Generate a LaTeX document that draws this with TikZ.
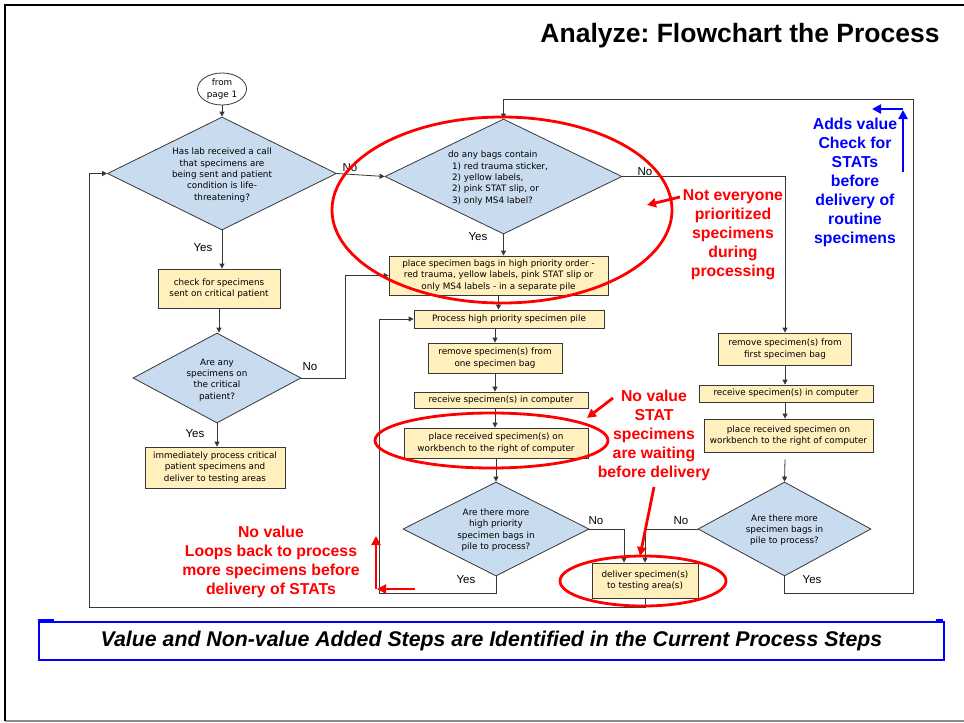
\documentclass[tikz,border=0pt]{standalone}
\usepackage{fontspec}
\setmainfont{Liberation Sans}
\newfontfamily\dejavu{DejaVu Sans}
\usetikzlibrary{shapes.geometric,arrows.meta}
\frenchspacing
\definecolor{diablue}{RGB}{201,219,239}
\definecolor{boxyellow}{RGB}{255,240,190}
\definecolor{linegray}{RGB}{55,55,55}
\definecolor{framegray}{RGB}{140,140,140}
\tikzset{
  flowbox/.style={rectangle, draw=linegray, fill=boxyellow, line width=0.8pt,
    inner sep=0pt, align=center, font={\dejavu\fontsize{8.8}{11.3}\selectfont}},
  decision/.style={diamond, draw=linegray, fill=diablue, line width=0.8pt, inner sep=0pt},
  dtext/.style={align=center, inner sep=0pt, font={\dejavu\fontsize{8.8}{11.3}\selectfont}},
  flow/.style={draw=linegray, line width=0.8pt, -{Triangle[length=5pt,width=5pt]}},
  yn/.style={inner sep=0pt, font={\fontsize{11.5}{13}\selectfont}},
  note/.style={align=center, inner sep=0pt, font={\bfseries\fontsize{15.8}{19}\selectfont}},
  redring/.style={draw=red, line width=2.8pt},
  redarrow/.style={draw=red, line width=2.8pt, -{Triangle[length=9pt,width=9pt]}},
  bluearrow/.style={draw=blue, line width=2.8pt, -{Triangle[length=9pt,width=9pt]}},
}
\begin{document}
\begin{tikzpicture}[x=1pt,y=-1pt]
\useasboundingbox (0,0) rectangle (964,723);
% page frame
\draw[framegray, line width=1.5pt] (5,721) -- (964,721);
\draw[black, line width=2pt] (5,721) -- (5,5) -- (964,5);

% title
\node[inner sep=0pt, font={\bfseries\fontsize{26.5}{30}\selectfont}] (title) at (740,36) {Analyze: Flowchart the Process};

% start terminal
\node[ellipse, draw=linegray, fill=white, line width=0.8pt, minimum width=49pt, minimum height=32pt,
  inner sep=0pt, align=center, font={\dejavu\fontsize{8.8}{11.3}\selectfont}] (start) at (222,89) {from\\page 1};

% decisions
\node[decision, minimum width=229pt, minimum height=113pt] (d1) at (222,173.5) {};
\node[dtext] (d1t) at (222,175) {Has lab received a call\\that specimens are\\being sent and patient\\condition is life-\\threatening?};

\node[decision, minimum width=237pt, minimum height=115pt] (d2) at (503.5,176.5) {};
\node[dtext, align=left] (d2t) at (498,178) {do any bags contain\\\hspace{4pt}1) red trauma sticker,\\\hspace{4pt}2) yellow labels,\\\hspace{4pt}2) pink STAT slip, or\\\hspace{4pt}3) only MS4 label?};

\node[decision, minimum width=168pt, minimum height=90pt] (d3) at (217,378) {};
\node[dtext] (d3t) at (217,380) {Are any\\specimens on\\the critical\\patient?};

\node[decision, minimum width=186pt, minimum height=94pt] (d5) at (496,529) {};
\node[dtext] (d5t) at (496,530) {Are there more\\high priority\\specimen bags in\\pile to process?};

\node[decision, minimum width=173pt, minimum height=94pt] (d4) at (784.5,529) {};
\node[dtext] (d4t) at (784.5,530) {Are there more\\specimen bags in\\pile to process?};

% process steps
\node[flowbox, minimum width=122pt, minimum height=39pt] (bcheck) at (219,288.5) {check for specimens\\sent on critical patient};
\node[flowbox, minimum width=140pt, minimum height=41pt] (bimm) at (215,467.5) {immediately process critical\\patient specimens and\\deliver to testing areas};
\node[flowbox, minimum width=219pt, minimum height=39pt] (bplace) at (498.5,275.5) {place specimen bags in high priority order -\\red trauma, yellow labels, pink STAT slip or\\only MS4 labels - in a separate pile};
\node[flowbox, minimum width=190pt, minimum height=18pt] (bproc) at (509,319) {Process high priority specimen pile};
\node[flowbox, minimum width=134pt, minimum height=30pt] (brem1) at (495,358) {remove specimen(s) from\\one specimen bag};
\node[flowbox, minimum width=174pt, minimum height=16pt] (brec1) at (501,400) {receive specimen(s) in computer};
\node[flowbox, minimum width=184pt, minimum height=30pt] (bwb1) at (496,443) {place received specimen(s) on\\workbench to the right of computer};
\node[flowbox, minimum width=106pt, minimum height=35pt] (deliver) at (645,580.5) {deliver specimen(s)\\to testing area(s)};
\node[flowbox, minimum width=133pt, minimum height=32pt] (brem2) at (785,349) {remove specimen(s) from\\first specimen bag};
\node[flowbox, minimum width=174pt, minimum height=17pt] (brec2) at (786,393.5) {receive specimen(s) in computer};
\node[flowbox, minimum width=169pt, minimum height=33pt] (bwb2) at (788.5,435.5) {place received specimen on\\workbench to the right of computer};

% loop corners
\coordinate (loopL) at (379,593);
\coordinate (loopB) at (89,607);
\coordinate (loopR) at (913,593);
\coordinate (loopT) at (913,99);

% connectors
\draw[flow] (start) -- (d1.north);
\draw[flow] (d1.east) -- (d2.west);
\draw[flow] (d1.south) -- (d1.south |- bcheck.north);
\draw[flow] (bcheck.south) -- (bcheck.south |- d3.north);
\draw[flow] (d3.south) -- (d3.south |- bimm.north);
\draw[flow] (d3.east) -- ++(44,0) |- (bplace.west);
\draw[flow] (d2.south) -- (d2.south |- bplace.north);
\draw[flow] (bplace.south) -- (bplace.south |- bproc.north);
\draw[flow] (brem1.north |- bproc.south) -- (brem1.north);
\draw[flow] (brem1.south) -- (brem1.south |- brec1.north);
\draw[flow] (brem1.south |- brec1.south) -- (brem1.south |- bwb1.north);
\draw[flow] (bwb1.south) -- (d5.north);
\draw[flow] (d5.east) -| ([xshift=-21pt]deliver.north);
\draw[flow] (d4.west) -| (deliver.north);
\draw[flow] (d5.south) |- (loopL) |- (bproc.west);
\draw[flow] (deliver.south) |- (loopB) |- (d1.west);
\draw[flow] (d2.east) -| (brem2.north);
\draw[flow] (brem2.south) -- (brem2.south |- brec2.north);
\draw[flow] (brem2.south |- brec2.south) -- (brem2.south |- bwb2.north);
\draw[flow] ([yshift=-7pt]brem2.south |- bwb2.south) -- (d4.north);
\draw[flow] (d4.south) |- (loopR) -- (loopT) -| (d2.north);

% branch labels
\node[yn] (n1) at (350,168) {No};
\node[yn] (y1) at (203,248) {Yes};
\node[yn] (n2) at (645,172) {No};
\node[yn] (y2) at (478,237) {Yes};
\node[yn] (n3) at (310,367) {No};
\node[yn] (y3) at (195,434) {Yes};
\node[yn] (n5) at (596,521) {No};
\node[yn] (y5) at (466,580) {Yes};
\node[yn] (n4) at (681,521) {No};
\node[yn] (y4) at (812,580) {Yes};

% highlight rings
\draw[redring] (502,210) ellipse [x radius=170pt, y radius=93pt];
\draw[redring] (491.5,440.5) ellipse [x radius=116.5pt, y radius=27.5pt];
\draw[redring] (643,581) ellipse [x radius=83pt, y radius=25pt];

% annotations
\node[note, text=red] (noteA) at (733,235) {Not everyone\\prioritized\\specimens\\during\\processing};
\node[note, text=red] (noteB) at (654,435) {No value\\STAT\\specimens\\are waiting\\before delivery};
\node[note, text=red] (noteD) at (271,562) {No value\\Loops back to process\\more specimens before\\delivery of STATs};
\node[note, text=blue] (noteC) at (855,182) {Adds value\\Check for\\STATs\\before\\delivery of\\routine\\specimens};

\coordinate (raS) at (680,197);  \coordinate (raT) at (647,205);
\coordinate (rbS) at (613,398);  \coordinate (rbT) at (587,418);
\coordinate (rcS) at (654,487);  \coordinate (rcT) at (640,556);
\coordinate (rdS) at (376,589);  \coordinate (rdT) at (376,536);
\coordinate (reS) at (415,589);  \coordinate (reT) at (377,589);
\coordinate (baS) at (903,172);  \coordinate (baT) at (903,110);
\coordinate (bbS) at (903,109);  \coordinate (bbT) at (872,109);
\draw[redarrow] (raS) -- (raT);
\draw[redarrow] (rbS) -- (rbT);
\draw[redarrow] (rcS) -- (rcT);
\draw[redarrow] (rdS) -- (rdT);
\draw[redarrow] (reS) -- (reT);
\draw[bluearrow] (baS) -- (baT);
\draw[bluearrow] (bbS) -- (bbT);

% summary banner
\fill[blue] (38,619) rectangle (54,623);
\fill[blue] (936,619) rectangle (943,623);
\node[draw=blue, line width=2pt, minimum width=905pt, minimum height=38pt, inner sep=0pt,
  font={\bfseries\itshape\fontsize{21.3}{24}\selectfont}] (banner) at (491.5,641)
  {Value and Non-value Added Steps are Identified in the Current Process Steps};
\end{tikzpicture}
\end{document}
